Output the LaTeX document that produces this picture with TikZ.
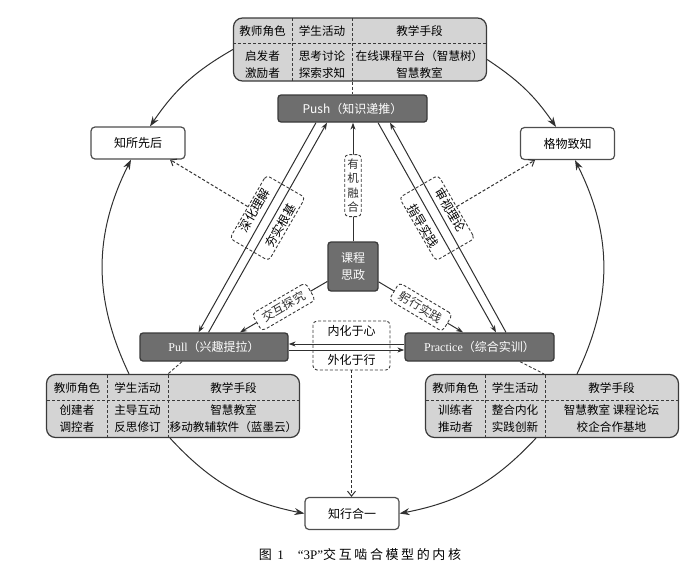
\documentclass[tikz,border=0pt]{standalone}
\usepackage{fontspec}
\setmainfont{Noto Sans CJK SC}
\newfontfamily\latin{Liberation Serif}
\newfontfamily\capfont[LetterSpace=20]{Noto Sans CJK SC}
\usetikzlibrary{arrows.meta}
\definecolor{boxDark}{HTML}{6E6E6E}
\definecolor{boxEdge}{HTML}{3A3A3A}
\definecolor{tabFill}{HTML}{D4D4D4}
\definecolor{lineDark}{HTML}{303030}

\begin{document}
\begin{tikzpicture}[x=1pt, y=1pt,
    darkbox/.style={draw=boxEdge, fill=boxDark, line width=1.3pt, rounded corners=3pt, text=white, inner sep=0pt, align=center, font=\fontsize{12}{17}\selectfont},
    plainbox/.style={draw=boxEdge!90, fill=white, line width=1.2pt, rounded corners=4pt, minimum width=94, minimum height=32, font=\fontsize{12}{14}\selectfont},
    tabbox/.style={draw=boxEdge, fill=tabFill, line width=1.2pt, rounded corners=9pt, minimum width=253, minimum height=63, inner sep=0pt},
    cell/.style={align=center, inner sep=0pt, font=\fontsize{11.6}{16.5}\selectfont},
    rule/.style={boxEdge, line width=0.9pt, dash pattern=on 3pt off 2pt},
    tag/.style={draw=boxEdge, dash pattern=on 3pt off 2pt, fill=white, rounded corners=4pt, line width=0.9pt, inner sep=2pt, font=\fontsize{12}{14}\selectfont},
    link/.style={lineDark, line width=1pt, -{Stealth[length=7pt, width=5pt]}},
    ring/.style={lineDark, line width=1pt, -{Stealth[length=10pt, width=7pt]}},
    hint/.style={lineDark, line width=1pt, dash pattern=on 3pt off 2pt, -{Straight Barb[length=5pt, width=8pt]}},
]
    \useasboundingbox (0,0) rectangle (700,-570);

    % core and the three P
    \node[darkbox, minimum width=50, minimum height=49] (kc) at (353,-266.5) {课程\\思政};
    \node[darkbox, minimum width=149, minimum height=27] (push) at (352.5,-108.5) {Push（知识递推）};
    \node[darkbox, minimum width=148, minimum height=28] (pull) at (214,-347) {{\latin Pull}（兴趣提拉）};
    \node[darkbox, minimum width=149, minimum height=28] (practice) at (479.5,-347) {{\latin Practice}（综合实训）};

    % goals
    \node[plainbox] (zhisuo) at (138,-143) {知所先后};
    \node[plainbox] (gewu) at (567.5,-143.5) {格物致知};
    \node[plainbox] (zhixing) at (352,-513.5) {知行合一};

    % table: Push
    \node[tabbox] (pushtab) at (360,-49.5) {};
    \draw[rule] (233,-43) -- (487,-43) (292,-18) -- (292,-81) (352,-18) -- (352,-81);
    \node[cell] (pushrole) at (262.5,-31) {教师角色};
    \node[cell] (pushact) at (322,-31) {学生活动};
    \node[cell] (pushtool) at (419.5,-31) {教学手段};
    \node[cell] (pushroles) at (262.5,-64.5) {启发者\\激励者};
    \node[cell] (pushacts) at (322,-64.5) {思考讨论\\探索求知};
    \node[cell] (pushtools) at (419.5,-64.5) {在线课程平台（智慧树）\\智慧教室};

    % table: Pull
    \node[tabbox] (pulltab) at (173,-406) {};
    \draw[rule] (47,-400) -- (299,-400) (107,-375) -- (107,-437) (168,-375) -- (168,-437);
    \node[cell] (pullrole) at (77,-388) {教师角色};
    \node[cell] (pullact) at (137.5,-388) {学生活动};
    \node[cell] (pulltool) at (233.5,-388) {教学手段};
    \node[cell] (pullroles) at (77,-418.5) {创建者\\调控者};
    \node[cell] (pullacts) at (137.5,-418.5) {主导互动\\反思修订};
    \node[cell] (pulltools) at (233.5,-418.5) {智慧教室\\移动教辅软件（蓝墨云）};

    % table: Practice
    \node[tabbox] (practab) at (552,-406) {};
    \draw[rule] (426,-400) -- (678,-400) (485,-375) -- (485,-437) (545,-375) -- (545,-437);
    \node[cell] (pracrole) at (455.5,-388) {教师角色};
    \node[cell] (pracact) at (515,-388) {学生活动};
    \node[cell] (practool) at (611.5,-388) {教学手段};
    \node[cell] (pracroles) at (455.5,-418.5) {训练者\\推动者};
    \node[cell] (pracacts) at (515,-418.5) {整合内化\\实践创新};
    \node[cell] (practools) at (611.5,-418.5) {智慧教室\ 课程论坛\\校企合作基地};

    % tables to the three P
    \draw[rule] (pushtab.south -| push.north) -- (push.north);
    \draw[rule] ([xshift=-32]pull.south) -- ([xshift=-5]pulltab.north);
    \draw[rule] ([xshift=40.5]practice.south) -- ([xshift=-8]practab.north);

    % triangle
    \draw[link] ([xshift=-36.5]push.south) -- ([xshift=-15.5]pull.north);
    \draw[link] ([xshift=-5.5]pull.north) -- ([xshift=-25.5]push.south);
    \draw[link] ([xshift=25.5]push.south) -- ([xshift=16.5]practice.north);
    \draw[link] ([xshift=26.5]practice.north) -- ([xshift=37.5]push.south);
    \draw[link] ([yshift=3]practice.west) -- ([yshift=3]pull.east);
    \draw[link] ([yshift=-3]pull.east) -- ([yshift=-3]practice.west);

    \node[tag, fill=none, rotate=60, minimum width=73, minimum height=45, align=center, inner sep=1pt] (deep) at (267.5,-218) {深化理解\\[17pt]夯实根基};
    \node[tag, fill=none, rotate=-60, minimum width=73, minimum height=45, align=center, inner sep=1pt] (theory) at (437,-218) {审视理论\\[17pt]指导实践};
    \node[tag, fill=none, minimum width=77, minimum height=49, align=center] (mind) at (351.5,-345.5) {内化于心\\[15pt]外化于行};

    % spokes from the core
    \draw[link] (kc.north) -- (kc.north |- push.south)
        node[tag, pos=0.47, inner sep=2.5pt, minimum height=62, font=\fontsize{11.5}{14.5}\selectfont, align=center] (fuse) {有\\机\\融\\合};
    \draw[link] (kc) -- ([xshift=26]pull.north)
        node[tag, sloped, midway, minimum width=62, minimum height=20] (explore) {交互探究};
    \draw[link] (kc) -- ([xshift=-16.5]practice.north)
        node[tag, sloped, midway, minimum width=62, minimum height=20] (practise) {躬行实践};

    % dashed hints
    \draw[hint] (deep.north) -- ([xshift=32]zhisuo.south);
    \draw[hint] (theory.north) -- ([xshift=-32.5]gewu.south);
    \draw[hint] (mind.south) -- (mind.south |- zhixing.north);

    % outer ring
    \draw[ring] (pushtab.west) to[bend right=13] ([xshift=12]zhisuo.north);
    \draw[ring] ([yshift=-10]pushtab.east) to[bend left=11] ([xshift=-11.5]gewu.north);
    \draw[ring] ([xshift=-44]pulltab.north) to[bend left=26] ([xshift=-7]zhisuo.south);
    \draw[ring] ([xshift=25]practab.north) to[bend right=26] ([xshift=7.5]gewu.south);
    \draw[ring] ([xshift=-3]pulltab.south) to[bend right=18] (zhixing.west);
    \draw[ring] ([xshift=-16]practab.south) to[bend left=18] (zhixing.east);

    % caption
    \node[font=\fontsize{13}{15}\selectfont] (caption) at (360,-555) {\capfont 图~{\latin 1}\hspace{14pt}{\latin “3P”}交互啮合模型的内核};
\end{tikzpicture}
\end{document}
